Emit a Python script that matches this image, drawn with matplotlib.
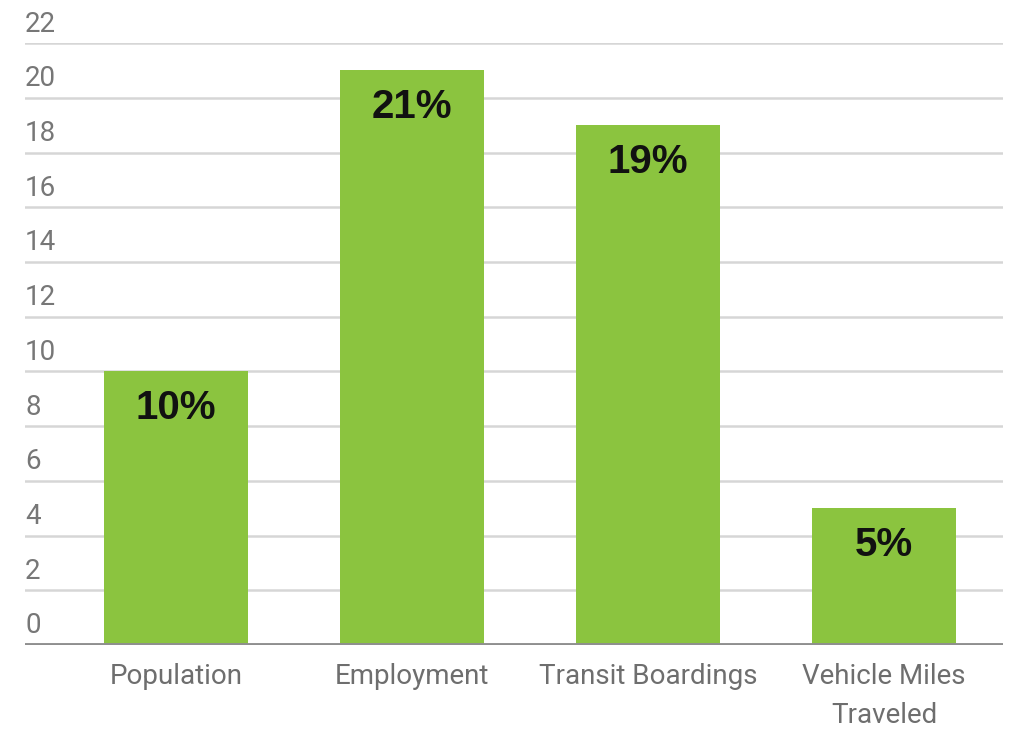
import matplotlib
matplotlib.use("Agg")
import matplotlib.pyplot as plt

categories = ["Population", "Employment", "Transit Boardings", "Vehicle Miles\nTraveled"]
values = [10, 21, 19, 5]
value_labels = ["10%", "21%", "19%", "5%"]
yticks = list(range(0, 23, 2))

GREEN = "#8bc43f"

fig = plt.figure(figsize=(10.18, 7.43), dpi=100)
fig.patch.set_facecolor("white")
ax = fig.add_axes([0.0246, 0.132, 0.9606, 0.810])

x = list(range(len(categories)))
ax.bar(x, values, width=0.61, color=GREEN, zorder=3)
ax.set_xlim(-0.64, 3.504)
ax.set_ylim(0, 22)

# gridlines
for t in yticks[1:]:
    ax.axhline(t, color="#d6d6d6", lw=1.8, zorder=1)
ax.axhline(0, color="#8f8f8f", lw=2.8, zorder=4)

# y labels sit above their gridline, left aligned
for t in yticks:
    ax.text(0.0, t + 0.2, str(t), transform=ax.get_yaxis_transform(),
            ha="left", va="bottom", fontsize=20, color="#777777",
            family="Roboto")

ax.set_yticks([])
ax.set_xticks(x)
ax.set_xticklabels(categories, fontsize=20, color="#6e6e6e", family="Roboto",
                   linespacing=1.55)
ax.tick_params(axis="x", length=0, pad=13)
for s in ax.spines.values():
    s.set_visible(False)

for xi, v, lab in zip(x, values, value_labels):
    ax.annotate(lab, (xi, v), xytext=(0, -26.5), textcoords="offset points",
                ha="center", va="center", fontsize=29, fontweight="bold",
                color="#111111", family="Liberation Sans", zorder=5)

fig.savefig("out.png", dpi=100)
